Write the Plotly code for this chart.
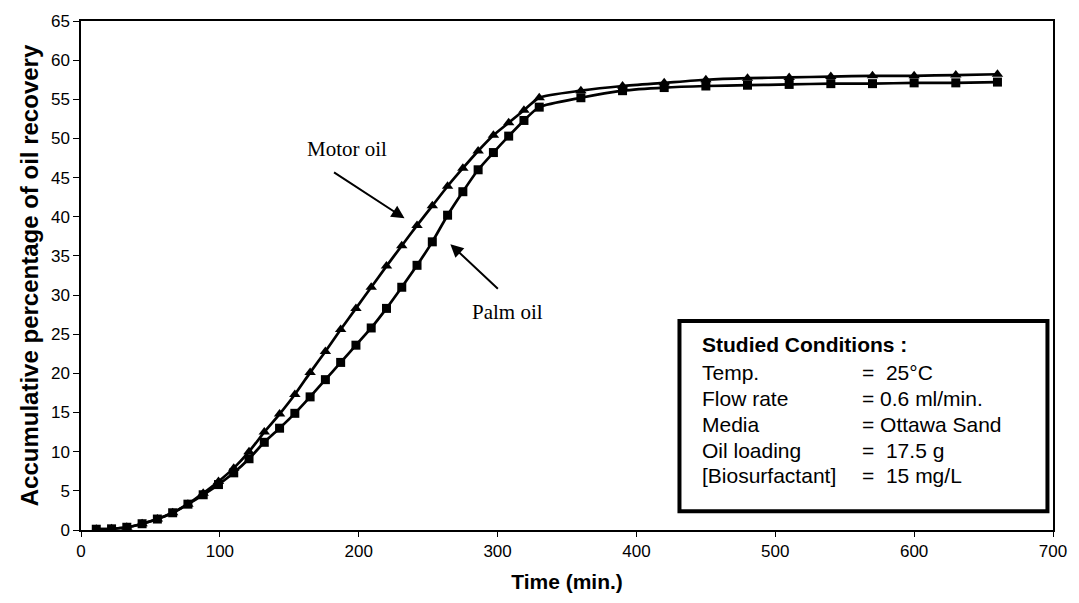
import plotly.graph_objects as go

time_min = [11, 22, 33, 44, 55, 66, 77, 88, 99, 110, 121, 132, 143, 154, 165, 176, 187, 198,
            209, 220, 231, 242, 253, 264, 275, 286, 297, 308, 319, 330,
            360, 390, 420, 450, 480, 510, 540, 570, 600, 630, 660]

motor_oil = [0.1, 0.15, 0.35, 0.8, 1.4, 2.2, 3.3, 4.7, 6.2, 7.9, 10.0, 12.5, 14.8, 17.3, 20.1,
             22.8, 25.6, 28.3, 31.0, 33.7, 36.3, 38.9, 41.4, 43.9, 46.2, 48.4, 50.4, 52.0, 53.6,
             55.2, 56.1, 56.7, 57.1, 57.5, 57.7, 57.8, 57.9, 58.0, 58.0, 58.1, 58.2]

palm_oil = [0.1, 0.15, 0.35, 0.8, 1.4, 2.2, 3.3, 4.5, 5.8, 7.3, 9.1, 11.2, 13.0, 14.9, 17.0,
            19.2, 21.4, 23.6, 25.8, 28.3, 31.0, 33.8, 36.8, 40.2, 43.2, 46.0, 48.2, 50.3, 52.3,
            54.0, 55.2, 56.1, 56.5, 56.7, 56.8, 56.9, 57.0, 57.0, 57.1, 57.1, 57.2]

x_ticks = [0, 100, 200, 300, 400, 500, 600, 700]
y_ticks = list(range(0, 66, 5))

conditions_labels = ["Temp.", "Flow rate", "Media", "Oil loading", "[Biosurfactant]"]
conditions_values = ["=  25°C", "= 0.6 ml/min.", "= Ottawa Sand", "=  17.5 g", "=  15 mg/L"]

fig = go.Figure()
fig.add_trace(go.Scatter(
    x=time_min, y=palm_oil, mode="lines+markers", name="Palm oil",
    line=dict(color="black", width=2.7, shape="spline", smoothing=0.6),
    marker=dict(symbol="square", size=9, color="black"),
))
fig.add_trace(go.Scatter(
    x=time_min, y=motor_oil, mode="lines+markers", name="Motor oil",
    line=dict(color="black", width=2.7, shape="spline", smoothing=0.6),
    marker=dict(symbol="triangle-up", size=10, color="black"),
))

axis_font = dict(family="Arial, Liberation Sans", size=17, color="black")
fig.update_layout(
    width=1079, height=603,
    margin=dict(l=81, r=19, t=17, b=73),
    plot_bgcolor="white", paper_bgcolor="white",
    showlegend=False,
    xaxis=dict(range=[0, 700], tickvals=x_ticks, ticks="outside", ticklen=5, tickwidth=1.2,
               tickcolor="black", showline=True, linecolor="black", linewidth=1.5, mirror=True,
               showgrid=False, zeroline=False, tickfont=axis_font,
               title=dict(text="<b>Time (min.)</b>", font=dict(family="Arial, Liberation Sans", size=21, color="black"), standoff=14)),
    yaxis=dict(range=[0, 65], tickvals=y_ticks, ticks="outside", ticklen=6, tickwidth=1.2,
               tickcolor="black", showline=True, linecolor="black", linewidth=1.5, mirror=True,
               showgrid=False, zeroline=False, tickfont=axis_font,
               title=dict(text="<b>Accumulative percentage of oil recovery</b>", font=dict(family="Arial, Liberation Sans", size=24, color="black"), standoff=6)),
)

serif = dict(family="Times New Roman, Liberation Serif", size=21, color="black")
fig.add_annotation(x=191.6, y=48.6, text="Motor oil", showarrow=False, font=serif)
fig.add_annotation(x=307.5, y=27.9, text="Palm oil", showarrow=False, font=serif)
fig.add_annotation(x=233, y=39.8, text="", showarrow=True, arrowhead=2, arrowsize=1.3,
                   arrowwidth=2, arrowcolor="black", ax=-72, ay=-47)
fig.add_annotation(x=266, y=36.5, text="", showarrow=True, arrowhead=2, arrowsize=1.3,
                   arrowwidth=2, arrowcolor="black", ax=49, ay=46)

fig.add_shape(type="rect", xref="x", yref="y", x0=431, x1=696, y0=2.4, y1=26.7,
              line=dict(color="black", width=4), fillcolor="white")

box_font = dict(family="Arial, Liberation Sans", size=21, color="black")
fig.add_annotation(x=446, y=23.7, text="<b>Studied Conditions :</b>", showarrow=False,
                   xanchor="left", font=box_font)
row_y = [20.1, 16.8, 13.5, 10.2, 6.9]
for lab, val, yy in zip(conditions_labels, conditions_values, row_y):
    fig.add_annotation(x=446, y=yy, text=lab, showarrow=False, xanchor="left", font=box_font)
    fig.add_annotation(x=561, y=yy, text=val, showarrow=False, xanchor="left", font=box_font)

fig.write_html("out.html")
